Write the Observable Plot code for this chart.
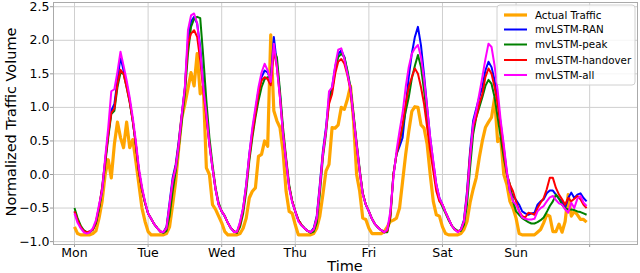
<!DOCTYPE html>
<html><head><meta charset="utf-8">
<script src="https://cdn.jsdelivr.net/npm/d3@7"></script>
<script src="https://cdn.jsdelivr.net/npm/@observablehq/plot@0.6"></script>
<style>
body{margin:0;background:#fff;}
svg{display:block;font-family:"DejaVu Sans",sans-serif;}
</style>
</head><body><div id="chart"></div>
<script>
const dayLabels = ["Mon","Tue","Wed","Thu","Fri","Sat","Sun",""];
const tickHours = [0,24,48,72,96,120,144,168];
const yTicks = [-1.0,-0.5,0,0.5,1.0,1.5,2.0,2.5];
const seriesNames = ["Actual Traffic","mvLSTM-RAN","mvLSTM-peak","mvLSTM-handover","mvLSTM-all"];
const seriesColors = ["#FFA500","#0000FF","#008000","#FF0000","#FF00FF"];

const actual = [
-0.78,-0.88,-0.90,-0.90,-0.90,-0.90,-0.88,-0.84,-0.65,-0.40,0.00,0.22,-0.05,0.45,0.78,0.55,0.40,0.78,0.40,0.52,0.20,-0.15,-0.50,-0.70,
-0.85,-0.90,-0.90,-0.90,-0.90,-0.90,-0.88,-0.78,-0.45,-0.10,0.40,0.85,1.05,1.28,1.52,1.32,1.80,1.20,1.32,0.10,0.00,-0.45,-0.52,-0.62,
-0.72,-0.85,-0.90,-0.90,-0.90,-0.90,-0.88,-0.80,-0.65,-0.35,-0.25,-0.20,0.27,0.30,0.50,0.42,2.08,0.95,0.80,0.70,0.35,-0.25,-0.55,-0.58,
-0.75,-0.90,-0.90,-0.90,-0.90,-0.90,-0.88,-0.80,-0.62,-0.30,0.05,0.15,0.70,0.69,0.74,1.00,0.97,1.12,1.32,0.80,0.00,-0.25,-0.65,-0.67,
-0.80,-0.88,-0.88,-0.88,-0.88,-0.85,-0.78,-0.70,-0.68,-0.65,-0.50,-0.10,0.30,0.64,0.94,1.01,1.00,0.74,0.69,0.45,0.00,-0.40,-0.60,-0.62,
-0.78,-0.88,-0.90,-0.90,-0.90,-0.90,-0.88,-0.82,-0.70,-0.42,-0.22,-0.05,0.25,0.50,0.70,0.78,0.85,1.14,0.49,0.54,0.00,-0.15,-0.40,-0.50,
-0.65,-0.88,-0.90,-0.90,-0.90,-0.90,-0.90,-0.86,-0.82,-0.72,-0.60,-0.62,-0.85,-0.85,-0.74,-0.86,-0.70,-0.30,-0.62,-0.55,-0.60,-0.67,-0.67,-0.71
];
const ran = [
-0.55,-0.68,-0.78,-0.84,-0.86,-0.85,-0.82,-0.72,-0.50,-0.20,0.20,0.60,0.95,1.05,1.40,1.75,1.55,1.35,1.10,0.80,0.45,0.05,-0.22,-0.42,
-0.58,-0.66,-0.74,-0.80,-0.85,-0.86,-0.78,-0.42,-0.05,0.15,0.50,0.90,1.30,2.00,2.28,2.35,2.25,1.90,1.35,0.90,0.45,0.10,-0.22,-0.45,
-0.55,-0.62,-0.72,-0.80,-0.85,-0.86,-0.72,-0.50,-0.15,0.30,0.65,0.95,1.25,1.45,1.55,1.52,1.40,2.05,1.65,1.20,0.62,0.20,-0.18,-0.40,
-0.55,-0.68,-0.75,-0.80,-0.84,-0.86,-0.80,-0.62,-0.15,0.35,0.70,1.15,1.30,1.60,1.80,1.85,1.75,1.52,1.28,0.85,0.45,0.05,-0.28,-0.45,
-0.55,-0.66,-0.74,-0.79,-0.83,-0.86,-0.84,-0.60,0.00,0.30,0.42,0.55,1.00,1.45,1.80,2.05,2.20,1.92,1.48,1.00,0.55,0.18,-0.15,-0.35,
-0.45,-0.56,-0.66,-0.76,-0.82,-0.85,-0.82,-0.68,-0.25,0.35,0.80,0.98,1.15,1.30,1.55,1.68,1.60,1.40,1.10,0.75,0.40,0.02,-0.25,-0.32,
-0.38,-0.45,-0.55,-0.58,-0.60,-0.58,-0.57,-0.45,-0.40,-0.37,-0.28,-0.24,-0.24,-0.30,-0.36,-0.40,-0.50,-0.35,-0.27,-0.35,-0.30,-0.28,-0.35,-0.40
];
const peak = [
-0.50,-0.65,-0.76,-0.83,-0.86,-0.86,-0.82,-0.72,-0.52,-0.25,0.15,0.55,0.90,0.95,1.30,1.52,1.50,1.30,1.08,0.80,0.45,0.05,-0.22,-0.42,
-0.58,-0.66,-0.74,-0.80,-0.85,-0.87,-0.84,-0.62,-0.25,0.05,0.40,0.80,1.20,1.80,2.20,2.32,2.35,2.33,1.75,1.10,0.55,0.15,-0.20,-0.42,
-0.55,-0.62,-0.72,-0.80,-0.85,-0.87,-0.78,-0.58,-0.25,0.20,0.55,0.85,1.10,1.30,1.42,1.45,1.45,1.85,1.75,1.25,0.70,0.25,-0.15,-0.40,
-0.55,-0.68,-0.75,-0.80,-0.84,-0.87,-0.85,-0.72,-0.30,0.25,0.60,1.10,1.25,1.55,1.75,1.80,1.75,1.55,1.30,0.90,0.48,0.08,-0.28,-0.45,
-0.55,-0.66,-0.74,-0.79,-0.83,-0.86,-0.86,-0.65,0.00,0.30,0.48,0.70,0.94,1.15,1.43,1.62,1.78,1.60,1.25,0.85,0.45,0.12,-0.18,-0.38,
-0.48,-0.58,-0.68,-0.76,-0.81,-0.84,-0.84,-0.75,-0.45,0.10,0.60,0.85,1.00,1.15,1.32,1.41,1.35,1.15,0.85,0.55,0.25,0.00,-0.15,-0.40,
-0.55,-0.60,-0.65,-0.68,-0.71,-0.73,-0.73,-0.71,-0.68,-0.64,-0.56,-0.47,-0.40,-0.30,-0.36,-0.45,-0.50,-0.52,-0.52,-0.53,-0.55,-0.56,-0.58,-0.60
];
const handover = [
-0.55,-0.68,-0.78,-0.84,-0.86,-0.85,-0.82,-0.70,-0.48,-0.20,0.20,0.60,0.92,0.98,1.35,1.56,1.50,1.30,1.08,0.80,0.45,0.05,-0.22,-0.42,
-0.58,-0.66,-0.74,-0.80,-0.85,-0.86,-0.80,-0.48,-0.10,0.12,0.45,0.88,1.28,1.95,2.10,2.15,2.05,1.70,1.25,0.85,0.45,0.10,-0.22,-0.45,
-0.55,-0.62,-0.72,-0.80,-0.85,-0.86,-0.74,-0.52,-0.18,0.25,0.60,0.90,1.20,1.40,1.45,1.42,1.33,1.85,1.60,1.15,0.62,0.22,-0.18,-0.40,
-0.55,-0.68,-0.75,-0.80,-0.84,-0.86,-0.82,-0.65,-0.20,0.30,0.65,1.05,1.20,1.50,1.68,1.72,1.65,1.48,1.25,0.85,0.45,0.05,-0.28,-0.45,
-0.55,-0.66,-0.74,-0.79,-0.83,-0.86,-0.84,-0.62,0.00,0.30,0.50,0.75,1.05,1.30,1.45,1.58,1.50,1.30,1.05,0.70,0.35,0.05,-0.25,-0.40,
-0.45,-0.56,-0.66,-0.76,-0.82,-0.85,-0.82,-0.70,-0.30,0.30,0.70,0.85,1.05,1.20,1.45,1.58,1.50,1.30,1.05,0.70,0.35,0.00,-0.15,-0.25,
-0.40,-0.55,-0.62,-0.64,-0.57,-0.58,-0.60,-0.50,-0.42,-0.35,-0.22,-0.05,-0.05,-0.20,-0.30,-0.37,-0.45,-0.35,-0.40,-0.36,-0.32,-0.37,-0.45,-0.50
];
const all = [
-0.58,-0.72,-0.80,-0.86,-0.88,-0.86,-0.80,-0.68,-0.45,-0.25,0.25,0.70,1.24,1.27,1.53,1.83,1.62,1.40,1.15,0.85,0.50,0.10,-0.18,-0.40,
-0.58,-0.66,-0.74,-0.80,-0.85,-0.86,-0.80,-0.45,-0.10,0.10,0.45,0.90,1.30,2.15,2.37,2.40,2.25,1.85,1.30,0.90,0.45,0.10,-0.22,-0.45,
-0.55,-0.62,-0.72,-0.80,-0.86,-0.85,-0.70,-0.50,-0.15,0.30,0.70,1.00,1.30,1.52,1.65,1.55,1.38,1.95,1.60,1.15,0.60,0.20,-0.20,-0.42,
-0.55,-0.70,-0.76,-0.80,-0.84,-0.86,-0.82,-0.65,-0.20,0.30,0.65,1.24,1.30,1.62,1.86,1.88,1.72,1.50,1.28,0.85,0.45,0.05,-0.30,-0.45,
-0.55,-0.66,-0.74,-0.79,-0.83,-0.86,-0.82,-0.55,-0.05,0.35,0.65,0.92,1.30,1.60,1.80,1.88,1.93,1.75,1.42,1.00,0.55,0.20,-0.15,-0.35,
-0.45,-0.56,-0.66,-0.76,-0.82,-0.86,-0.82,-0.70,-0.32,0.25,0.75,0.95,1.20,1.45,1.72,1.95,1.90,1.62,1.25,0.80,0.44,0.05,-0.25,-0.40,
-0.45,-0.55,-0.64,-0.66,-0.67,-0.67,-0.66,-0.55,-0.50,-0.47,-0.40,-0.34,-0.32,-0.38,-0.43,-0.45,-0.52,-0.57,-0.42,-0.50,-0.36,-0.32,-0.42,-0.47
];

const seriesData = [actual, ran, peak, handover, all];
const seriesWidths = [3.2, 2, 2, 2, 2];
const fmtY = d => (d < 0 ? "\u2212" : "") + Math.abs(d).toFixed(1);

const lineMarks = seriesData.map((vals, k) =>
  Plot.line(vals, {x: (d, i) => i, y: d => d, stroke: seriesColors[k], strokeWidth: seriesWidths[k], strokeLinejoin: "round", strokeLinecap: "butt"})
);

const chart = Plot.plot({
  width: 640, height: 273,
  marginLeft: 53, marginRight: 3, marginTop: 2, marginBottom: 29,
  style: {fontFamily: "DejaVu Sans, sans-serif", fontSize: "12.5px", background: "white", color: "black", overflow: "visible"},
  x: {domain: [-6.85, 183.6]},
  y: {domain: [-1.043, 2.563]},
  marks: [
    Plot.gridX(tickHours, {stroke: "#cfcfcf", strokeOpacity: 1, strokeWidth: 1}),
    Plot.gridY(yTicks, {stroke: "#cfcfcf", strokeOpacity: 1, strokeWidth: 1}),
    Plot.axisX(tickHours, {tickFormat: d => dayLabels[tickHours.indexOf(d)], tickSize: 3, tickPadding: 1, label: null, stroke: "#999", fontSize: 12.5}),
    Plot.axisY(yTicks, {tickFormat: fmtY, tickSize: 3, tickPadding: 1, label: null, stroke: "#999", fontSize: 12.5}),
    ...lineMarks,
    Plot.frame({stroke: "#aaa"})
  ]
});
document.getElementById("chart").appendChild(chart);

const svg = d3.select(chart);
svg.append("text").attr("transform", "translate(11,122) rotate(-90)")
  .attr("text-anchor", "middle").attr("dy", "0.35em")
  .style("font-size", "14.5px").attr("fill", "black").text("Normalized Traffic Volume");
svg.append("text").attr("x", 345).attr("y", 271)
  .attr("text-anchor", "middle")
  .style("font-size", "14.5px").attr("fill", "black").text("Time");

const lg = svg.append("g").attr("text-anchor", "start");
lg.append("rect").attr("x", 497).attr("y", 5).attr("width", 138).attr("height", 80).attr("rx", 3)
  .attr("fill", "white").attr("fill-opacity", 0.8).attr("stroke", "#d0d0d0");
const rowY = [15, 29.5, 44.5, 60, 75];
seriesNames.forEach((name, k) => {
  lg.append("line").attr("x1", 504).attr("x2", 527).attr("y1", rowY[k]).attr("y2", rowY[k])
    .attr("stroke", seriesColors[k]).attr("stroke-width", seriesWidths[k]);
  lg.append("text").attr("x", 535).attr("y", rowY[k]).attr("dy", "0.35em").attr("text-anchor", "start")
    .style("font-size", "10.3px").attr("fill", "black").text(name);
});
</script>
</body></html>
